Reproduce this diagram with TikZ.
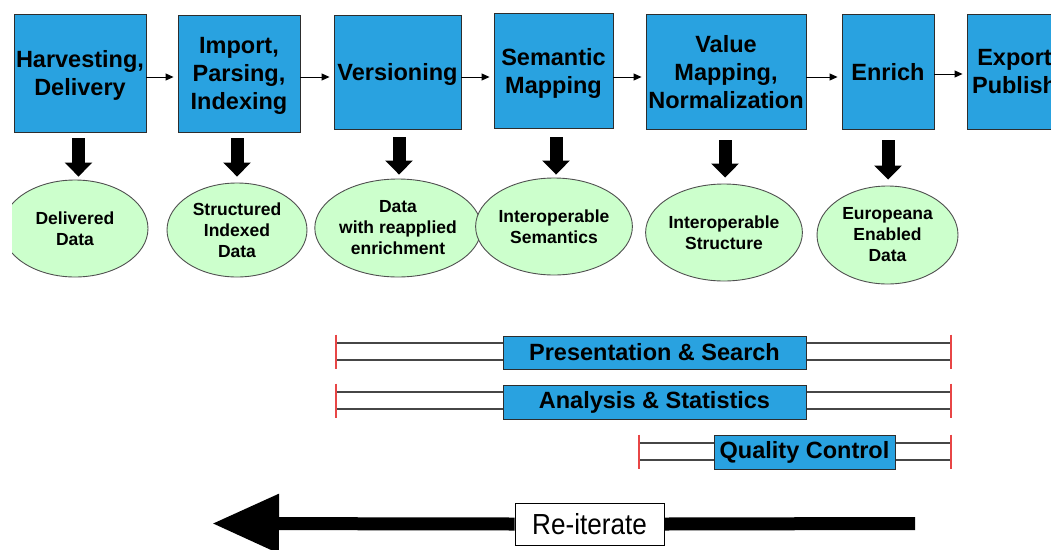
\documentclass[tikz,border=0pt]{standalone}
\usepackage{fontspec}
\setmainfont{Liberation Sans}
\newfontfamily\narrowsans[FakeStretch=0.9]{Liberation Sans}
\usetikzlibrary{arrows.meta,shapes.geometric,calc}
\definecolor{boxblue}{RGB}{41,162,224}
\definecolor{boxedge}{RGB}{45,45,45}
\definecolor{egreen}{RGB}{204,255,204}
\definecolor{elledge}{RGB}{80,80,80}
\definecolor{railgray}{RGB}{70,70,70}
\definecolor{tickred}{RGB}{232,70,70}
\begin{document}
\begin{tikzpicture}[x=1pt,y=-1pt,
  stage/.style={draw=boxedge, line width=0.9pt, fill=boxblue, inner sep=0pt, align=center,
    text depth=0pt, font=\bfseries\fontsize{23.5}{28}\selectfont},
  result/.style={ellipse, draw=elledge, line width=0.9pt, fill=egreen, inner sep=0pt, align=center,
    font=\bfseries\fontsize{17.5}{21}\selectfont},
  flow/.style={draw=black, line width=0.9pt, -{Triangle[length=8pt,width=7pt]}, shorten >=4pt},
  bigdown/.style={draw=black, line width=13pt, -{Triangle[length=14pt,width=27pt]}},
  rail/.style={draw=railgray, line width=1.2pt},
  endtick/.style={draw=tickred, line width=1.2pt},
  band/.style={draw=boxedge, line width=0.9pt, fill=boxblue, inner sep=0pt,
    font=\bfseries\fontsize{23.5}{28}\selectfont},
  iterbox/.style={draw=black, line width=0.8pt, fill=white, inner sep=0pt,
    font=\narrowsans\fontsize{29}{34}\selectfont},
  iterline/.style={draw=black, line width=13pt}
]
\path[use as bounding box] (0,0) rectangle (1051,549);
\clip (0,0) rectangle (1051,549);

% stage boxes
\node[stage, minimum width=132pt, minimum height=118pt] (b1) at (80,73) {Harvesting,\\Delivery};
\node[stage, minimum width=122pt, minimum height=117pt] (b2) at (239,73.5) {Import,\\Parsing,\\Indexing};
\node[stage, minimum width=127pt, minimum height=114pt] (b3) at (397.5,72) {Versioning};
\node[stage, minimum width=119pt, minimum height=115pt] (b4) at (553.5,70.5) {Semantic\\Mapping};
\node[stage, minimum width=160pt, minimum height=115pt] (b5) at (726,71.5) {Value\\Mapping,\\Normalization};
\node[stage, minimum width=92pt, minimum height=115pt] (b6) at (888,71.5) {Enrich};
\node[stage, minimum width=95pt, minimum height=115pt] (b7) at (1014.5,71.5) {Export\\Publish};

% flow arrows
\coordinate (r1) at (0,77);
\coordinate (r2) at (0,74);
\draw[flow] (b1.east |- r1) -- (b2.west |- r1);
\draw[flow] (b2.east |- r1) -- (b3.west |- r1);
\draw[flow] (b3.east |- r1) -- (b4.west |- r1);
\draw[flow] (b4.east |- r1) -- (b5.west |- r1);
\draw[flow] (b5.east |- r1) -- (b6.west |- r1);
\draw[flow] (b6.east |- r2) -- (b7.west |- r2);

% result ellipses
\begin{scope}
\clip (12,0) rectangle (1051,549);
\node[result, minimum width=146pt, minimum height=97pt] (e1) at (75,228.5) {Delivered\\Data};
\end{scope}
\node[result, minimum width=140pt, minimum height=94pt] (e2) at (237,230) {Structured\\Indexed\\Data};
\node[result, minimum width=140pt, minimum height=98pt] (e3) at (398,228) {Data\\with reapplied\\enrichment};
\node[result, minimum width=141pt, minimum height=97pt] (e4) at (554,226.5) {Interoperable\\Semantics};
\node[result, minimum width=142pt, minimum height=97pt] (e5) at (724,232.5) {Interoperable\\Structure};
\node[result, minimum width=141pt, minimum height=98pt] (e6) at (887.5,235) {Europeana\\Enabled\\Data};

% thick down arrows
\draw[bigdown] ($(b1.south)+(-1.5,6)$) -- ($(b1.south |- e1.north)+(-1.5,-3)$);
\draw[bigdown] ($(b2.south)+(-2,6)$) -- ($(b2.south |- e2.north)+(-2,-6)$);
\draw[bigdown] ($(b3.south)+(1.5,8)$) -- ($(b3.south |- e3.north)+(1.5,-4)$);
\draw[bigdown] ($(b4.south)+(2.5,9)$) -- ($(b4.south |- e4.north)+(2.5,-3)$);
\draw[bigdown] ($(b5.south)+(-1,11)$) -- ($(b5.south |- e5.north)+(-1,-6)$);
\draw[bigdown] ($(b6.south)+(0,11)$) -- ($(b6.south |- e6.north)+(0,-6)$);

% bands
\coordinate (psL) at (336,351.5);
\coordinate (psR) at (951,351.5);
\coordinate (asL) at (336,400.5);
\coordinate (asR) at (951,400.5);
\coordinate (qcL) at (639,451.5);
\coordinate (qcR) at (951,451.5);
\foreach \L/\R in {psL/psR, asL/asR, qcL/qcR}{
  \draw[rail] ([yshift=8.5pt]\L) -- ([yshift=8.5pt]\R);
  \draw[rail] ([yshift=-8.5pt]\L) -- ([yshift=-8.5pt]\R);
  \draw[endtick] ([yshift=17pt]\L) -- ([yshift=-17pt]\L);
  \draw[endtick] ([yshift=17pt]\R) -- ([yshift=-17pt]\R);
}
\node[band, minimum width=303pt, minimum height=33pt] (ps) at (654.5,352.5) {Presentation \& Search};
\node[band, minimum width=303pt, minimum height=34pt] (as) at (654.5,402) {Analysis \& Statistics};
\node[band, minimum width=181pt, minimum height=34pt] (qc) at (804.5,452) {Quality Control};

% re-iterate arrow
\coordinate (itR) at (915,523.5);
\coordinate (itL) at (212,523.5);
\node[iterbox, minimum width=149pt, minimum height=42pt] (rit) at (589.5,524) {Re-iterate};
\draw[iterline] (itR) -- (rit.east);
\draw[iterline, -{Triangle[length=67pt,width=56pt]}] (rit.west) -- (itL);
\end{tikzpicture}
\end{document}
